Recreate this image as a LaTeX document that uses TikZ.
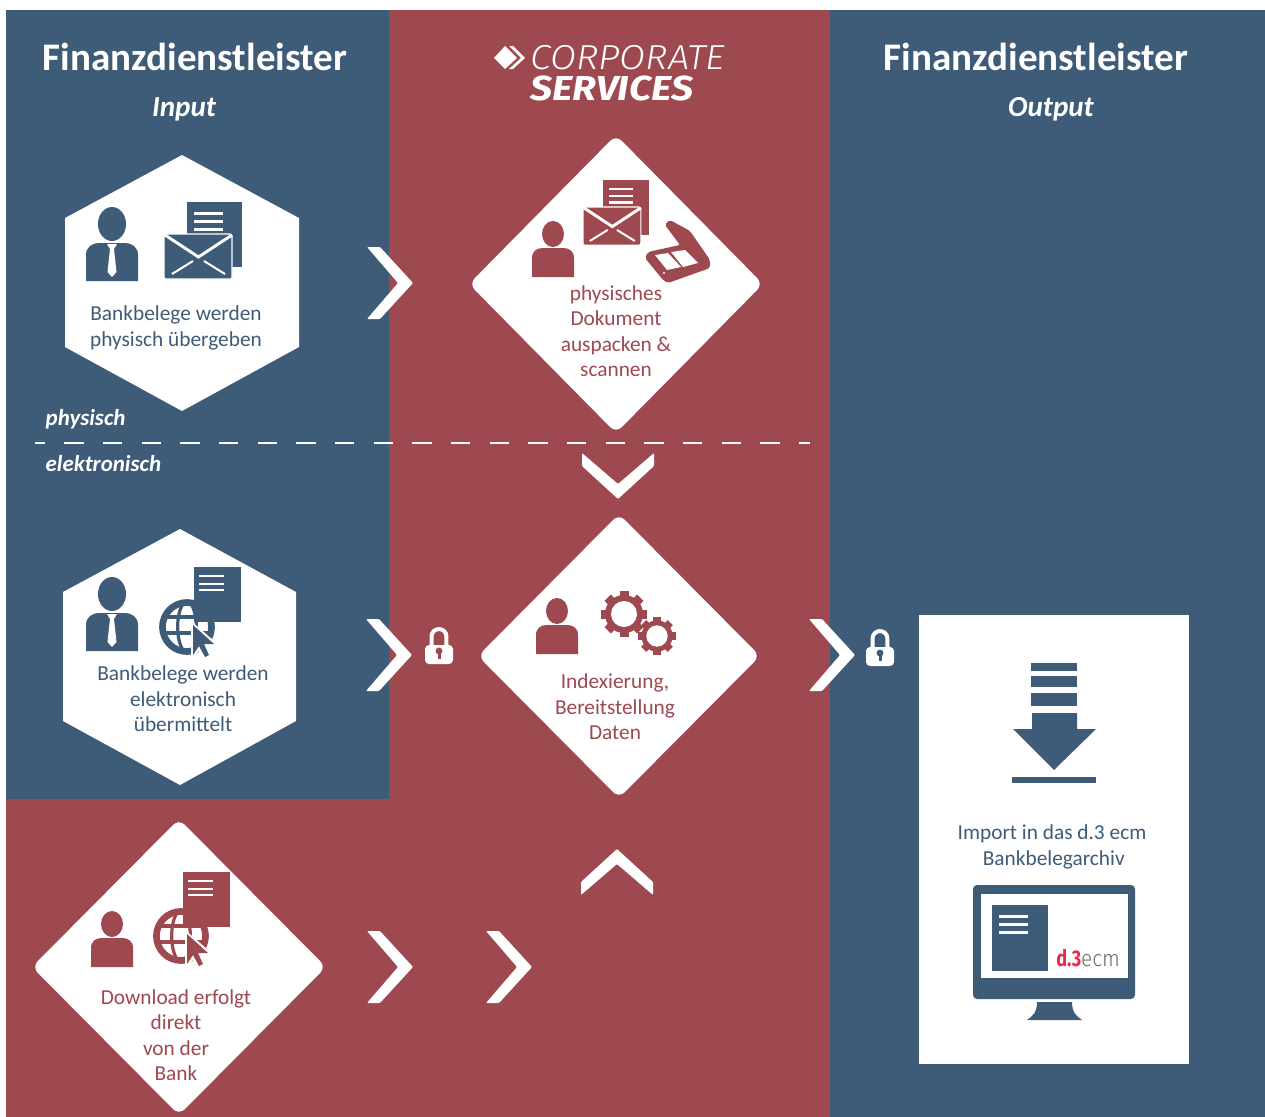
\documentclass[tikz,border=0pt]{standalone}
\usepackage{fontspec}
\setmainfont{Carlito}
\newfontfamily\logofont{Fira Sans Light}
\newfontfamily\logoboldfont{Fira Sans}
\definecolor{bankblue}{HTML}{3E5B77}
\definecolor{bankred}{HTML}{9E4850}
\definecolor{ecmred}{HTML}{E8294C}
\definecolor{ecmgray}{HTML}{6A6A6A}

\tikzset{
  titletext/.style={text=white,font=\fontsize{29.3}{32}\selectfont\bfseries},
  subtext/.style={text=white,font=\fontsize{21.8}{24}\selectfont\bfseries\itshape},
  sidetext/.style={text=white,anchor=west,font=\fontsize{17.2}{20}\selectfont\bfseries\itshape},
  bluetext/.style={text=bankblue,align=center,font=\fontsize{16}{19.1}\selectfont},
  redtext/.style={text=bankred,align=center,font=\fontsize{16}{19.1}\selectfont},
  pics/chevron/.style={code={
    \fill[white,rounded corners=0.8pt] (0,0) -- (-33,-36) -- (-46,-36) -- (-15,0) -- (-46,36) -- (-33,36) -- cycle;
  }},
  pics/suitperson/.style={code={
    \fill[#1] (0,-57) ellipse [x radius=10.5pt,y radius=12.75pt];
    \fill[#1] (-26,0) -- (-26,-26) .. controls (-26,-34) and (-20,-38) .. (-12,-38) -- (12,-38) .. controls (20,-38) and (26,-34) .. (26,-26) -- (26,0) -- cycle;
    \fill[white] (-5,-37) -- (5,-37) -- (2,-32) -- (4.5,-9) -- (0,-4) -- (-4.5,-9) -- (-2,-32) -- cycle;
  }},
  pics/plainperson/.style={code={
    \fill[#1] (0,-43) ellipse [x radius=8.25pt,y radius=9.75pt];
    \fill[#1] (-21,0) -- (-21,-19) .. controls (-21,-26) and (-16,-29) .. (-10,-29) -- (10,-29) .. controls (16,-29) and (21,-26) .. (21,-19) -- (21,0) -- cycle;
  }},
  pics/docicon/.style={code={
    \fill[#1] (0,0) rectangle (47,55);
    \foreach \liney in {9,17,23}
      \fill[white] (5,\liney-1.2) rectangle (30,\liney+1.2);
  }},
  pics/mailicon/.style={code={
    \fill[#1] (23,-32) rectangle (78,33);
    \foreach \liney in {-21,-13,-5}
      \fill[white] (30,\liney-1.5) rectangle (59,\liney+1.5);
    \filldraw[fill=#1,draw=white,line width=0.8pt,rounded corners=1.5pt] (0,0) rectangle (68,45);
    \draw[white,line width=2.2pt] (1,1) -- (34.5,23) -- (68,1);
    \draw[white,line width=1.5pt] (8,40) -- (29,27);
    \draw[white,line width=1.5pt] (61,40) -- (40,27);
  }},
  pics/globeicon/.style={code={
    \draw[#1,line width=5pt] (0,0) circle [radius=18.4pt];
    \draw[#1,line width=2.4pt] (0,0) ellipse [x radius=7pt,y radius=19pt];
    \draw[#1,line width=2.4pt] (-25,-10) -- (25,-10);
    \draw[#1,line width=2.4pt] (-25,6) -- (25,6);
    \fill[white] (4,-6) -- (4,33) -- (12,24) -- (17,34) -- (25,30) -- (21,20) -- (33,19) -- cycle;
    \fill[#1] (6,-2) -- (6,28) -- (12,19) -- (18,30) -- (22,28) -- (17,17) -- (27,17) -- cycle;
  }},
  pics/gearicon/.style={code={
    \foreach \gearangle in {0,45,...,315}
      \fill[bankred,rotate=\gearangle] (-4.5,-23) rectangle (4.5,0);
    \fill[bankred] (0,0) circle [radius=14.25pt];
    \fill[white] (0,0) circle [radius=9.75pt];
  }},
  pics/lockicon/.style={code={
    \draw[white,line width=3pt] (-7.5,-9) -- (-7.5,-17.5) arc [start angle=180,end angle=0,radius=5.6pt] -- (7.5,-9);
    \fill[white,rounded corners=3pt] (-14,-9) rectangle (14,10);
    \fill[#1] (0,-3) circle [radius=2.6pt];
    \fill[#1] (-1.5,-3) rectangle (1.5,5);
  }},
}

\begin{document}
\begin{tikzpicture}[x=0.75pt,y=-0.75pt]
\useasboundingbox (0,0) rectangle (1265,1117);
\fill[white] (0,0) rectangle (1265,1117);

% columns
\fill[bankred] (6,799) rectangle (830,1117);
\fill[bankred] (389,10) rectangle (830,799);
\fill[bankblue] (6,10) rectangle (389,799);
\fill[bankblue] (830,10) rectangle (1265,1117);

% header
\node[titletext] (inputtitle) at (195,57) {Finanzdienstleister};
\node[subtext] (inputsub) at (184,109) {Input};
\node[titletext] (outputtitle) at (1036,57) {Finanzdienstleister};
\node[subtext] (outputsub) at (1051,109) {Output};

\fill[white] (494,58) -- (505,46) -- (517,58) -- (505,69) -- cycle;
\fill[white] (509,46) -- (513,46) -- (525,58) -- (513,69) -- (509,69) -- (521,58) -- cycle;
\node[text=white,anchor=west,font=\fontsize{26}{28}\selectfont\logofont\itshape,inner sep=0pt] (corporate) at (530,58) {\scalebox{1.09}[1]{CORPORATE}};
\node[text=white,anchor=west,font=\fontsize{26}{28}\selectfont\logoboldfont\bfseries\itshape,inner sep=0pt] (services) at (530,88) {\scalebox{1.13}[1]{SERVICES}};

% shapes
\fill[white] (182,155) -- (299,218) -- (299,347) -- (182,411) -- (65,347) -- (65,218) -- cycle;
\fill[white] (180,529) -- (296,592) -- (296,721) -- (180,785) -- (63,721) -- (63,592) -- cycle;
\fill[white,rounded corners=6pt] (616,135) -- (763,284) -- (616,433) -- (469,284) -- cycle;
\fill[white,rounded corners=6pt] (619,514) -- (760,656) -- (619,798) -- (478,656) -- cycle;
\fill[white,rounded corners=6pt] (179,819) -- (326,967) -- (179,1115) -- (32,967) -- cycle;
\fill[white] (919,615) rectangle (1189,1064);

% dashed border
\coordinate (dashleft) at (35,443);
\coordinate (dashright) at (810,443);
\draw[white,line width=1.1pt,dash pattern=on 14.5pt off 14.5pt,dash phase=7pt] (dashleft) -- (dashright);
\node[sidetext] (physisch) at (41,419) {physisch};
\node[sidetext] (elektronisch) at (41,464) {elektronisch};

% chevrons
\pic at (413,283) {chevron};
\pic at (412,655) {chevron};
\pic at (855,655) {chevron};
\pic at (413,967) {chevron};
\pic at (532,967) {chevron};
\pic[rotate=-90] at (618,499) {chevron};
\pic[rotate=90] at (617,849) {chevron};

% locks
\pic at (439,654) {lockicon=bankred};
\pic at (880,656) {lockicon=bankblue};

% hexagon one
\pic at (112,281) {suitperson=bankblue};
\pic at (164,234) {mailicon=bankblue};
\node[bluetext] (physinput) at (176,328) {Bankbelege werden\\physisch übergeben};

% hexagon two
\pic at (112,651) {suitperson=bankblue};
\pic at (187,627) {globeicon=bankblue};
\pic at (194,567) {docicon=bankblue};
\node[bluetext] (elekinput) at (183,699) {Bankbelege werden\\elektronisch\\übermittelt};

% diamond scan
\pic at (553,277) {plainperson=bankred};
\pic[scale=0.85] at (583,207) {mailicon=bankred};
\fill[bankred,rounded corners=1.5pt] (645,258) -- (648,252) -- (680,245) -- (665,225) -- (667,222) -- (670,220) -- (690,231) -- (710,260) -- (710,268) -- (668,283) -- (663,280) -- cycle;
\fill[white] (655,255) -- (668,253) -- (681,267) -- (667,270) -- cycle;
\fill[white] (671,252) -- (685,250) -- (698,263) -- (683,267) -- cycle;
\fill[white] (664,273) circle [radius=0.8pt];
\node[redtext] (scantext) at (616,331) {physisches\\Dokument\\auspacken \&\\scannen};

% diamond index
\pic at (557,654) {plainperson=bankred};
\pic at (624,614) {gearicon};
\pic[scale=0.82] at (657,636) {gearicon};
\node[redtext] (indextext) at (615,707) {Indexierung,\\Bereitstellung\\Daten};

% diamond download
\pic at (112,967) {plainperson=bankred};
\pic at (181,936) {globeicon=bankred};
\pic at (183,872) {docicon=bankred};
\node[redtext] (loadtext) at (176,1035) {Download erfolgt\\direkt\\von der\\Bank};

% import
\foreach \bary/\barh in {663/8,676/11,693/13}
  \fill[bankblue] (1031,\bary) rectangle (1077,\bary+\barh);
\fill[bankblue] (1032,713) -- (1077,713) -- (1077,729) -- (1096,729) -- (1054,770) -- (1013,729) -- (1032,729) -- cycle;
\fill[bankblue] (1012,777) rectangle (1096,783);
\node[bluetext] (importtext) at (1052,847) {Import in das d.3 ecm\\\,Bankbelegarchiv};

% monitor
\fill[bankblue,rounded corners=3pt] (973,885) rectangle (1135,999);
\fill[white] (981,894) rectangle (1128,978);
\fill[bankblue] (992,905) rectangle (1048,971);
\foreach \liney in {916,924,932}
  \fill[white] (999,\liney-1.5) rectangle (1028,\liney+1.5);
\fill[bankblue] (1037,1002) -- (1072,1002) .. controls (1072,1012) and (1076,1016) .. (1082,1020) -- (1027,1020) .. controls (1033,1016) and (1037,1012) .. (1037,1002) -- cycle;
\node[anchor=west,inner sep=0pt,font=\fontsize{17}{19}\selectfont] (ecmlogo) at (1056,958) {\textcolor{ecmred}{\scalebox{0.8}[1]{\logoboldfont\bfseries d.3}}\textcolor{ecmgray}{\scalebox{0.92}[1]{\logofont ecm}}};
\end{tikzpicture}
\end{document}
